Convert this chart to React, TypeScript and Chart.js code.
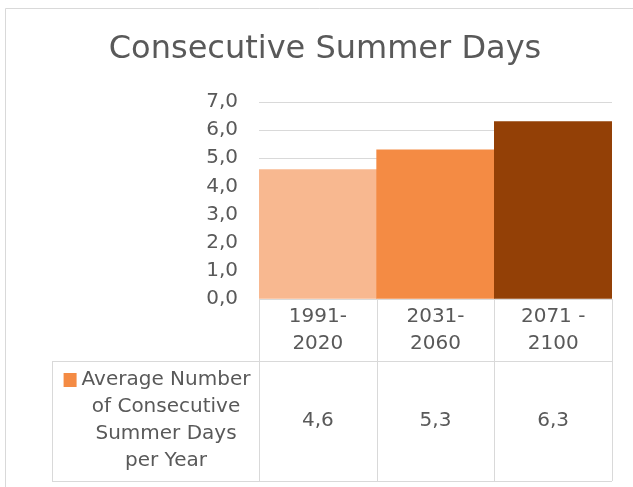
import React, { useEffect, useRef } from "react";
import { Chart, registerables } from "chart.js";

Chart.register(...registerables);

const chartTitle = "Consecutive Summer Days";
const categories: string[][] = [["1991-", "2020"], ["2031-", "2060"], ["2071 -", "2100"]];
const values: number[] = [4.6, 5.3, 6.3];
const barColors: string[] = ["#F8B890", "#F48B44", "#934006"];
const legendColor = "#F48B44";
const seriesLabelLines: string[] = ["Average Number", "of Consecutive", "Summer Days", "per Year"];
const yMin = 0;
const yMax = 7;
const yStep = 1;

const FONT = "'DejaVu Sans', sans-serif";
const TEXT = "#595959";
const LINE = "#D9D9D9";

const fmt = (v: number) => v.toFixed(1).replace(".", ",");

const tablePlugin = {
  id: "dataTable",
  afterDraw(chart: any) {
    const ctx = chart.ctx as CanvasRenderingContext2D;
    const area = chart.chartArea;
    const x = chart.scales.x;
    const n = categories.length;
    const colW = area.width / n;
    const top = area.bottom;
    const rowMid = top + 62;
    const bottom = top + 182;
    const legendLeft = 52;
    ctx.save();
    // outer frame
    ctx.strokeStyle = LINE;
    ctx.lineWidth = 1;
    ctx.beginPath();
    ctx.moveTo(5.5, chart.height);
    ctx.lineTo(5.5, 8.5);
    ctx.lineTo(chart.width, 8.5);
    ctx.stroke();
    // title
    ctx.fillStyle = TEXT;
    ctx.font = `32px ${FONT}`;
    ctx.textAlign = "center";
    ctx.textBaseline = "middle";
    ctx.fillText(chartTitle, 325, 50);
    // table lines
    ctx.beginPath();
    ctx.moveTo(area.left, top + 0.5);
    ctx.lineTo(area.right, top + 0.5);
    ctx.moveTo(legendLeft, rowMid + 0.5);
    ctx.lineTo(area.right, rowMid + 0.5);
    ctx.moveTo(legendLeft, bottom + 0.5);
    ctx.lineTo(area.right, bottom + 0.5);
    ctx.moveTo(legendLeft + 0.5, rowMid);
    ctx.lineTo(legendLeft + 0.5, bottom);
    for (let i = 0; i <= n; i++) {
      const xx = Math.round(area.left + i * colW) + 0.5;
      ctx.moveTo(xx, top);
      ctx.lineTo(xx, bottom);
    }
    ctx.stroke();
    // header labels and values
    ctx.font = `20px ${FONT}`;
    categories.forEach((lines, i) => {
      const cx = x.getPixelForValue(i);
      lines.forEach((ln, j) => {
        ctx.fillText(ln, cx, top + 18 + j * 27);
      });
      ctx.fillText(fmt(values[i]), cx, (rowMid + bottom) / 2);
    });
    // legend cell
    const lcx = 166;
    seriesLabelLines.forEach((ln, j) => {
      const y = rowMid + 19 + j * 27;
      if (j === 0) {
        const w = ctx.measureText(ln).width;
        const tx = 166;
        ctx.fillText(ln, tx, y);
        ctx.fillStyle = legendColor;
        ctx.fillRect(tx - w / 2 - 18, y - 7, 13, 14);
        ctx.fillStyle = TEXT;
      } else {
        ctx.fillText(ln, lcx, y);
      }
    });
    ctx.restore();
  },
};

export default function App() {
  const ref = useRef<HTMLCanvasElement | null>(null);
  useEffect(() => {
    document.body.style.margin = "0";
    const canvas = ref.current!;
    const chart = new Chart(canvas, {
      type: "bar",
      data: {
        labels: categories.map((c) => c.join(" ")),
        datasets: [
          {
            label: seriesLabelLines.join(" "),
            data: values,
            backgroundColor: barColors,
            borderWidth: 0,
            barPercentage: 1,
            categoryPercentage: 1,
          },
        ],
      },
      options: {
        animation: false,
        responsive: false,
        devicePixelRatio: 1,
        layout: { padding: { top: 102, right: 21, bottom: 188, left: 0 } },
        plugins: {
          legend: { display: false },
          tooltip: { enabled: false },
          title: { display: false },
        },
        scales: {
          x: { display: false },
          y: {
            min: yMin,
            max: yMax,
            afterFit: (s: any) => {
              s.width = 259;
            },
            border: { display: false },
            grid: { color: LINE, drawTicks: false, lineWidth: 1 },
            ticks: {
              stepSize: yStep,
              padding: 21,
              color: TEXT,
              font: { family: FONT, size: 20 },
              callback: (v: any) => fmt(Number(v)),
            },
          },
        },
      },
      plugins: [tablePlugin],
    });
    return () => chart.destroy();
  }, []);
  return (
    <div style={{ width: 633, height: 487, background: "#fff" }}>
      <canvas ref={ref} width={633} height={487} />
    </div>
  );
}
